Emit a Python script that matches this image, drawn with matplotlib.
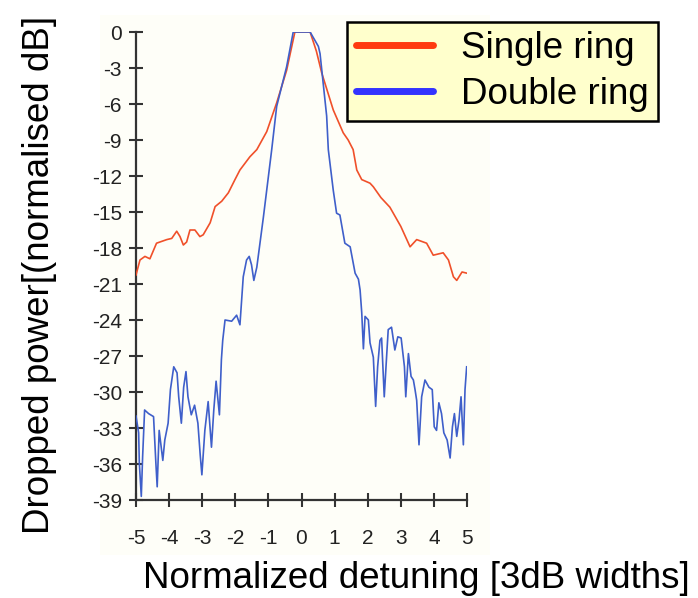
import matplotlib
matplotlib.use("Agg")
import matplotlib.pyplot as plt
from matplotlib.patches import Rectangle
from matplotlib.lines import Line2D

# Single ring trace (normalised dB vs detuning)
single_x = [-5.0, -4.88, -4.73, -4.58, -4.38, -4.07, -3.92, -3.77, -3.67, -3.57, -3.47, -3.37, -3.22,
            -3.07, -2.97, -2.76, -2.61, -2.41, -2.21, -2.01, -1.86, -1.56, -1.35, -1.05, -0.75,
            -0.45, -0.20, 0.0, 0.26, 0.45, 0.61, 0.96, 1.26, 1.41, 1.56, 1.67, 1.82, 2.07, 2.17,
            2.40, 2.67, 3.00, 3.28, 3.48, 3.78, 3.98, 4.28, 4.44, 4.59, 4.69, 4.85, 5.0]
single_y = [-20.25, -19.0, -18.7, -18.9, -17.6, -17.3, -17.2, -16.6, -17.05, -17.75, -17.5, -16.5, -16.5,
            -17.05, -16.9, -15.9, -14.55, -14.1, -13.4, -12.3, -11.5, -10.4, -9.8, -8.3, -5.9,
            -3.2, 0.0, 0.0, 0.0, -1.6, -3.4, -6.5, -8.4, -9.0, -9.8, -11.5, -12.3, -12.6, -12.9,
            -13.8, -14.6, -16.2, -17.9, -17.3, -17.6, -18.6, -18.4, -19.0, -20.4, -20.7, -20.0, -20.1]

# Double ring trace
double_x = [-5.0, -4.92, -4.90, -4.84, -4.80, -4.74, -4.62, -4.47, -4.40, -4.36, -4.30, -4.19, -4.13,
            -4.03, -3.96, -3.86, -3.76, -3.71, -3.63, -3.56, -3.49, -3.43, -3.33, -3.23, -3.13,
            -3.06, -3.01, -2.92, -2.82, -2.72, -2.65, -2.58, -2.48, -2.42, -2.38, -2.31, -2.11,
            -1.96, -1.86, -1.76, -1.66, -1.58, -1.51, -1.44, -1.35, -1.15, -0.90, -0.75, -0.45,
            -0.25, 0.0, 0.26, 0.51, 0.56, 0.76, 0.81, 0.96, 1.06, 1.16, 1.31, 1.47, 1.62, 1.72,
            1.77, 1.82, 1.87, 1.92, 2.02, 2.07, 2.17, 2.24, 2.30, 2.37, 2.42, 2.50, 2.57, 2.62,
            2.72, 2.82, 2.91, 3.01, 3.11, 3.15, 3.23, 3.31, 3.38, 3.43, 3.48, 3.55, 3.63, 3.73,
            3.85, 3.95, 4.01, 4.08, 4.15, 4.23, 4.30, 4.40, 4.49, 4.56, 4.62, 4.69, 4.76, 4.82,
            4.89, 4.94, 4.99]
double_y = [-32.0, -33.4, -35.9, -38.7, -35.4, -31.5, -31.8, -32.05, -35.9, -37.9, -33.2, -35.7, -34.0,
            -32.6, -29.8, -27.9, -28.4, -30.4, -32.6, -29.6, -28.3, -30.4, -31.9, -31.1, -32.6,
            -35.25, -36.9, -33.2, -30.8, -34.6, -31.5, -29.1, -31.9, -27.3, -25.7, -24.0, -24.1,
            -23.6, -24.4, -20.4, -19.0, -18.7, -19.4, -20.7, -19.6, -15.4, -9.8, -6.2, -2.9,
            0.0, 0.0, 0.0, -1.2, -1.8, -7.0, -9.8, -13.2, -15.1, -15.25, -17.6, -17.9, -20.1, -20.6,
            -21.5, -23.4, -26.4, -23.7, -24.0, -25.9, -27.1, -31.2, -27.9, -25.7, -25.5, -30.4, -27.1, -24.8,
            -24.6, -26.5, -25.4, -25.5, -27.9, -30.4, -26.8, -28.7, -29.0, -29.8, -30.7, -34.4, -30.4, -29.0,
            -29.6, -29.8, -32.9, -33.2, -30.9, -31.8, -33.4, -34.0, -35.5, -32.9, -31.8, -33.7, -32.3, -30.4,
            -34.4, -29.8, -27.9]

x_ticks = [-5, -4, -3, -2, -1, 0, 1, 2, 3, 4, 5]
y_ticks = list(range(0, -40, -3))

series_labels = ["Single ring", "Double ring"]

fig = plt.figure(figsize=(6.98, 5.98), dpi=100)
fig.patch.set_facecolor("white")

# faint cream background of the embedded image
bg = Rectangle((100 / 698, 1 - 555 / 598), 390 / 698, 540 / 598,
               transform=fig.transFigure, facecolor="#fefef8",
               edgecolor="none", zorder=-5)
fig.patches.append(bg)

ax = fig.add_axes([136 / 698, 1 - 500 / 598, (467 - 136) / 698, (500 - 32) / 598], zorder=2)
ax.set_facecolor("none")

ax.plot(single_x, single_y, color="#f0502a", lw=1.2, zorder=3)
ax.plot(double_x, double_y, color="#3f5fca", lw=1.2, zorder=3)

ax.set_xlim(-5, 5)
ax.set_ylim(-39, 0)
ax.set_xticks(x_ticks)
ax.set_yticks(y_ticks)
ax.set_xticklabels([str(v) for v in x_ticks])
ax.set_yticklabels([str(v) for v in y_ticks])

for s in ["top", "right"]:
    ax.spines[s].set_visible(False)
for s in ["left", "bottom"]:
    ax.spines[s].set_color("#333333")
    ax.spines[s].set_linewidth(1.6)
ax.tick_params(direction="inout", length=10, width=1.5, color="#333333",
               labelsize=15, labelcolor="#222222")
ax.tick_params(axis="x", pad=16)
ax.tick_params(axis="y", pad=5)
for lab in ax.get_xticklabels() + ax.get_yticklabels():
    lab.set_family(["Liberation Sans Narrow", "Liberation Sans", "DejaVu Sans"])

lab_font = ["Liberation Sans", "DejaVu Sans"]
fig.text(416 / 698, 1 - 578 / 598, "Normalized detuning [3dB widths]", ha="center", va="center",
         fontsize=26.5, family=lab_font, color="black")
fig.text(40 / 698, 1 - 275 / 598, "Dropped power[(normalised dB]", ha="center", va="center",
         rotation=90, fontsize=26.5, family=lab_font, color="black")

# legend
handles = [Line2D([], [], color="#ff3a10", lw=5, solid_capstyle="round"),
           Line2D([], [], color="#3333ff", lw=5, solid_capstyle="round")]
leg = fig.legend(handles, series_labels, loc="upper left",
                 bbox_to_anchor=(347 / 698, 1 - 22 / 598),
                 prop={"family": lab_font, "size": 26.5}, frameon=True, fancybox=False,
                 facecolor="#ffffcc", edgecolor="black", framealpha=1,
                 handlelength=2.1, handletextpad=0.75, borderpad=0.25, labelspacing=0.3,
                 borderaxespad=0)
leg.get_frame().set_linewidth(1.8)
leg.set_zorder(10)

fig.savefig("out.png", dpi=100)
